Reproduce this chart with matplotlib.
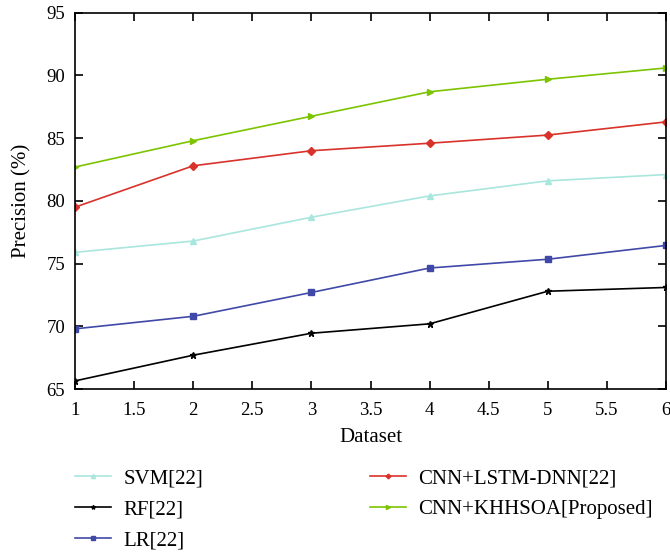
import matplotlib
matplotlib.use("Agg")
from matplotlib import pyplot as plt

datasets = [1, 2, 3, 4, 5, 6]
svm = [75.9, 76.8, 78.7, 80.4, 81.6, 82.1]
rf = [65.65, 67.7, 69.45, 70.2, 72.8, 73.1]
lr = [69.8, 70.8, 72.7, 74.65, 75.35, 76.45]
cnnLstm = [79.5, 82.8, 84.0, 84.6, 85.25, 86.3]
proposed = [82.7, 84.8, 86.75, 88.7, 89.7, 90.6]

plt.rcParams['font.family'] = ['Liberation Serif', 'DejaVu Serif']

fig = plt.figure(figsize=(6.7, 5.55), dpi=100)
ax = fig.add_axes([0.112, 0.299, 0.882, 0.678])

ax.plot(datasets, svm, color='#a9e6de', marker='^', markersize=5, lw=1.2, label='SVM[22]')
ax.plot(datasets, rf, color='black', marker='*', markersize=5, lw=1.2, label='RF[22]')
ax.plot(datasets, lr, color='#4049a8', marker='s', markersize=4, lw=1.2, label='LR[22]')
ax.plot(datasets, cnnLstm, color='#d8322a', marker='D', markersize=4, lw=1.2, label='CNN+LSTM-DNN[22]')
ax.plot(datasets, proposed, color='#7dc400', marker='>', markersize=5, lw=1.2, label='CNN+KHHSOA[Proposed]')

ax.set_xlim(1, 6)
ax.set_ylim(65, 95)
ax.set_xticks([1, 1.5, 2, 2.5, 3, 3.5, 4, 4.5, 5, 5.5, 6])
ax.set_xticklabels(['1', '1.5', '2', '2.5', '3', '3.5', '4', '4.5', '5', '5.5', '6'])
ax.set_yticks([65, 70, 75, 80, 85, 90, 95])
ax.tick_params(direction='in', top=True, right=True, length=6, width=1.2, labelsize=13.5)
ax.tick_params(axis='x', pad=9)
ax.tick_params(axis='y', pad=7)
for s in ax.spines.values():
    s.set_linewidth(1.2)
ax.set_xlabel('Dataset', fontsize=15, labelpad=7)
ax.set_ylabel('Precision (%)', fontsize=15, labelpad=11)

handles, labels = ax.get_legend_handles_labels()
fig.legend(handles, labels, ncol=2, loc='upper left', bbox_to_anchor=(0.112, 0.156),
           frameon=False, fontsize=15, handlelength=1.73, handletextpad=0.58,
           columnspacing=8.0, labelspacing=0.56, borderpad=0, borderaxespad=0,
           markerscale=0.6)

fig.savefig('out.png', dpi=100)
